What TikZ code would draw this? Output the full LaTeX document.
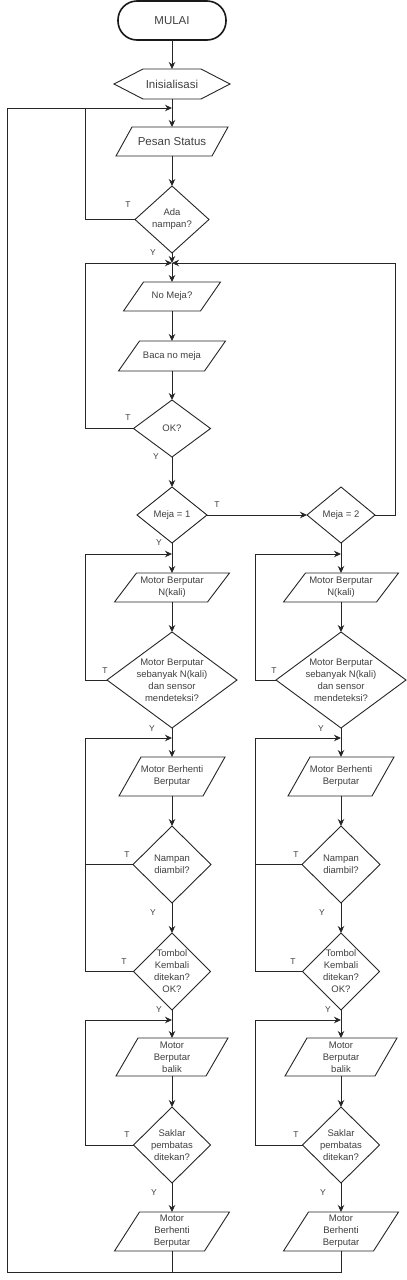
\documentclass[tikz,border=0pt]{standalone}
\usepackage{fontspec}
\setmainfont{Liberation Sans}
\usetikzlibrary{shapes.geometric,arrows.meta}
\begin{document}
\begin{tikzpicture}[x=1pt,y=-1pt,
  every node/.style={outer sep=0pt,inner sep=0pt},
  line/.style={draw=black!85, line width=0.9pt},
  arr/.style={line, -{Stealth[length=7pt,width=6.5pt]}},
  txt/.style={text=black!75, font=\fontsize{9.5}{12}\selectfont, align=center},
  bigtxt/.style={text=black!75, font=\fontsize{11.5}{14}\selectfont, align=center},
  lbl/.style={text=black!75, font=\fontsize{8.5}{10}\selectfont},
  term/.style={draw=black!90, line width=1.6pt, rounded corners=19pt, minimum width=108pt, minimum height=39pt, bigtxt},
  io/.style 2 args={txt, minimum width=#1, minimum height=#2},
  dec/.style 2 args={diamond, draw=black!85, line width=0.9pt, minimum width=#1, minimum height=#2},
]
\fill[white] (0,0) rectangle (407,1280);
\useasboundingbox (0,0) rectangle (407,1280);

% ---- top part ----
\node[term] (mulai) at (172,20.5) {MULAI};
\node[bigtxt, minimum width=116pt, minimum height=30pt] (init) at (172,84) {Inisialisasi};
\node[io={112pt}{29pt}, bigtxt] (pesan) at (172,141.5) {Pesan Status};
\node[dec={74pt}{67pt}, label={[txt]center:{Ada\\nampan?}}] (ada) at (172,219.5) {};
\node[io={97pt}{29pt}] (nomeja) at (172,296.5) {No Meja?};
\node[io={107pt}{30pt}] (baca) at (172,356) {Baca no meja};
\node[dec={77pt}{57pt}, label={[txt]center:{OK?}}] (ok) at (172,428.5) {};
\node[dec={70pt}{56pt}, label={[txt]center:{Meja = 1}}] (m1) at (172,515) {};
\node[dec={68pt}{56pt}, label={[txt]center:{Meja = 2}}] (m2) at (341,515) {};

% ---- two columns ----
\foreach \p/\x in {a/172,b/341}{
  \node[io={115pt}{29pt}] (\p1) at (\x,587.5) {Motor Berputar\\N(kali)};
  \node[dec={130pt}{96pt}, label={[txt]center:{Motor Berputar\\sebanyak N(kali)\\dan sensor\\mendeteksi?}}] (\p2) at (\x,680) {};
  \node[io={106pt}{39pt}] (\p3) at (\x,776.5) {Motor Berhenti\\Berputar};
  \node[dec={78pt}{77pt}, label={[txt]center:{Nampan\\diambil?}}] (\p4) at (\x,864.5) {};
  \node[dec={77pt}{77pt}, label={[txt]center:{Tombol\\Kembali\\ditekan?\\OK?}}] (\p5) at (\x,971.5) {};
  \node[io={112pt}{38pt}] (\p6) at (\x,1057) {Motor\\Berputar\\balik};
  \node[dec={77pt}{76pt}, label={[txt]center:{Saklar\\pembatas\\ditekan?}}] (\p7) at (\x,1145) {};
  \node[io={115pt}{39pt}] (\p8) at (\x,1231.5) {Motor\\Berhenti\\Berputar};
}

% hexagon outline
\draw[line] ([xshift=29pt]init.north west) -- ([xshift=-29pt]init.north east) -- (init.east)
  -- ([xshift=-29pt]init.south east) -- ([xshift=29pt]init.south west) -- (init.west) -- cycle;
% parallelogram outlines
\foreach \n/\s in {pesan/16,nomeja/20,baca/21,a1/22,b1/22,a3/22,b3/22,a6/22,b6/22,a8/25,b8/25}{
  \draw[line] ([xshift=\s pt]\n.north west) -- (\n.north east) -- ([xshift=-\s pt]\n.south east)
    -- (\n.south west) -- cycle;
}

% junctions
\coordinate (j0) at (172,108);
\coordinate (j1) at (172,263);
\coordinate (jb) at (172,1272);
\foreach \p/\x/\lx in {a/172/85,b/341/255}{
  \coordinate (\p j2) at (\x,554);
  \coordinate (\p j3) at (\x,738);
  \coordinate (\p j4) at (\x,1020);
  \coordinate (\p L2) at (\lx,554);
  \coordinate (\p L3) at (\lx,738);
  \coordinate (\p L4) at (\lx,1020);
}
\coordinate (L0) at (85,108);
\coordinate (L1) at (85,263);
\coordinate (R1) at (395,263);
\coordinate (oB) at (7,1272);
\coordinate (oT) at (7,108);

% connectors top
\draw[arr] (mulai) -- (init);
\draw[arr] (init) -- (pesan);
\draw[arr] (pesan) -- (ada);
\draw[line] (ada.west) -| (L0);
\draw[arr] (a8.south) -- (jb) -- (oB) -- (oT) -- (j0);
\draw[line] (b8.south) |- (jb);
\draw[arr] (ada.south) -- (j1);
\draw[arr] (ok.west) -| (L1) -- (j1);
\draw[arr] (m2.east) -| (R1) -- (j1);
\draw[arr] (j1) -- (nomeja);
\draw[arr] (nomeja) -- (baca);
\draw[arr] (baca) -- (ok);
\draw[arr] (ok) -- (m1);
\draw[arr] (m1) -- (m2);

% connectors columns
\draw[line] (m1.south) -- (aj2);
\draw[line] (m2.south) -- (bj2);
\foreach \p in {a,b}{
  \draw[arr] (\p j2) -- (\p1);
  \draw[arr] (\p2.west) -| (\p L2) -- (\p j2);
  \draw[arr] (\p1) -- (\p2);
  \draw[line] (\p2.south) -- (\p j3);
  \draw[arr] (\p j3) -- (\p3);
  \draw[arr] (\p3) -- (\p4);
  \draw[arr] (\p4) -- (\p5);
  \draw[line] (\p5.west) -| (\p L3);
  \draw[arr] (\p4.west) -| (\p L3) -- (\p j3);
  \draw[line] (\p5.south) -- (\p j4);
  \draw[arr] (\p j4) -- (\p6);
  \draw[arr] (\p6) -- (\p7);
  \draw[arr] (\p7.west) -| (\p L4) -- (\p j4);
  \draw[arr] (\p7) -- (\p8);
}

% T / Y labels
\node[lbl] (tada) at (128,205) {T};
\node[lbl] (yada) at (153,253) {Y};
\node[lbl] (tok) at (128,418) {T};
\node[lbl] (yok) at (156,457) {Y};
\node[lbl] (tm1) at (217,505) {T};
\node[lbl] (ym1) at (159,543) {Y};
\foreach \p/\dx in {a/0,b/169}{
  \node[lbl] (\p t2) at (105+\dx,671) {T};
  \node[lbl] (\p y2) at (152+\dx,729) {Y};
  \node[lbl] (\p t4) at (127+\dx,855) {T};
  \node[lbl] (\p y4) at (153+\dx,913) {Y};
  \node[lbl] (\p t5) at (124+\dx,962) {T};
  \node[lbl] (\p y5) at (159+\dx,1010) {Y};
  \node[lbl] (\p t7) at (127+\dx,1135) {T};
  \node[lbl] (\p y7) at (154+\dx,1193) {Y};
}
\end{tikzpicture}
\end{document}
